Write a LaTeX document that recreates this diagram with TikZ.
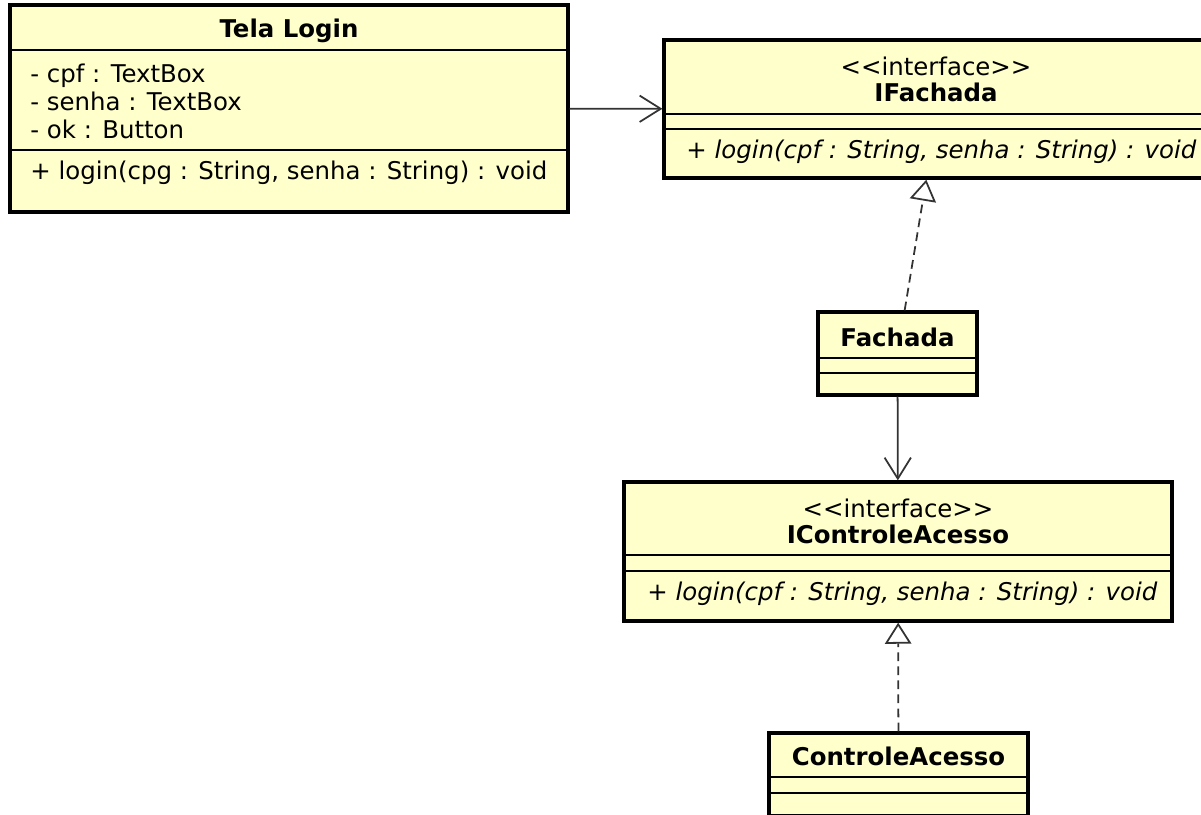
\documentclass[tikz,border=0pt]{standalone}
\usepackage{fontspec}
\setmainfont{DejaVu Sans}[Ligatures=TeXOff]
\usetikzlibrary{arrows.meta,positioning}
\definecolor{umlfill}{HTML}{FFFFCC}
\definecolor{umlline}{HTML}{333333}
\newcommand{\umlfont}{\fontsize{13.9}{15.9}\selectfont}
\begin{document}
\begin{tikzpicture}[x=0.02cm,y=-0.02cm]
    % Style definition for the class boxes and their texts
    \tikzset{classbox/.style={rectangle, draw=black, line width=1.9pt, fill=umlfill, inner sep=0pt},
             sepline/.style={draw=black, line width=0.9pt},
             classname/.style={font=\umlfont\bfseries, inner sep=0pt},
             stereo/.style={font=\umlfont, inner sep=0pt},
             member/.style={font=\umlfont, inner sep=0pt, align=left, anchor=west},
             absmember/.style={member, font=\umlfont\itshape}}
    \tikzstyle{assoc} = [line width=1pt, draw=umlline, -{Straight Barb[length=12pt,width=15pt]}]
    \tikzstyle{realize} = [line width=1pt, draw=umlline, dash pattern=on 5pt off 3pt,
                           -{Triangle[open,length=12pt,width=15pt,fill=white]}]

    \useasboundingbox (0,0) rectangle (1201,815);

    % Class boxes
    \node (tela) [classbox, minimum width=11.16cm, minimum height=4.14cm] at (289,108.5) {};
    \node (ifach) [classbox, minimum width=10.96cm, minimum height=2.76cm] at (938,109) {};
    \node (fach) [classbox, minimum width=3.18cm, minimum height=1.66cm] at (897.5,353.5) {};
    \node (ictrl) [classbox, minimum width=10.96cm, minimum height=2.78cm] at (898,551.5) {};
    \node (ctrl) [classbox, minimum width=5.18cm, minimum height=1.66cm] at (898.5,774.5) {};

    % Compartment lines
    \draw [sepline] (tela.west |- 0,50) -- (tela.east |- 0,50);
    \draw [sepline] (tela.west |- 0,150) -- (tela.east |- 0,150);
    \draw [sepline] (ifach.west |- 0,114) -- (ifach.east |- 0,114);
    \draw [sepline] (ifach.west |- 0,129) -- (ifach.east |- 0,129);
    \draw [sepline] (fach.west |- 0,358) -- (fach.east |- 0,358);
    \draw [sepline] (fach.west |- 0,373) -- (fach.east |- 0,373);
    \draw [sepline] (ictrl.west |- 0,555) -- (ictrl.east |- 0,555);
    \draw [sepline] (ictrl.west |- 0,571) -- (ictrl.east |- 0,571);
    \draw [sepline] (ctrl.west |- 0,777) -- (ctrl.east |- 0,777);
    \draw [sepline] (ctrl.west |- 0,793) -- (ctrl.east |- 0,793);

    % Tela Login
    \node (telaname) [classname] at (289,31) {Tela Login};
    \node (telaattr) [member] at (30,101) {- cpf : TextBox\\- senha : TextBox\\- ok : Button};
    \node (telaop) [member] at (30,173) {+ login(cpg : String, senha : String) : void};

    % IFachada
    \node (ifachstereo) [stereo] at (936,66) {<<interface>>};
    \node (ifachname) [classname] at (936,92) {IFachada};
    \node (ifachop) [absmember] at (686,152) {+ login(cpf : String, senha : String) : void};

    % Fachada
    \node (fachname) [classname] at (897.5,337) {Fachada};

    % IControleAcesso
    \node (ictrlstereo) [stereo] at (898,508) {<<interface>>};
    \node (ictrlname) [classname] at (898,534) {IControleAcesso};
    \node (ictrlop) [absmember] at (647,594) {+ login(cpf : String, senha : String) : void};

    % ControleAcesso
    \node (ctrlname) [classname] at (898.5,756) {ControleAcesso};

    % Relations
    \draw [assoc] (tela) -- (ifach);
    \draw [assoc] (fach) -- (ictrl);
    \draw [realize] (fach) -- (ifach);
    \draw [realize] (ctrl) -- (ictrl);
\end{tikzpicture}
\end{document}
